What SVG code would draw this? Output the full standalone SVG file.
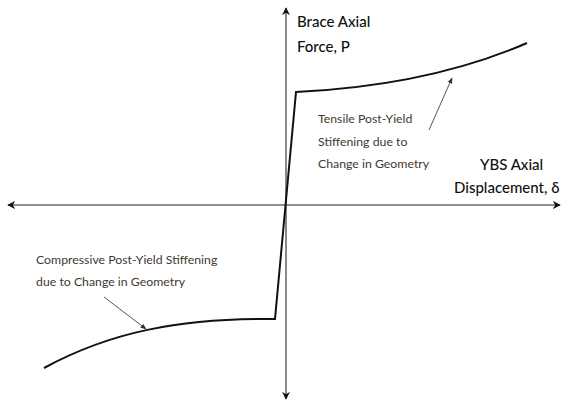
<svg xmlns="http://www.w3.org/2000/svg" width="568" height="403" viewBox="0 0 568 403">
<style>
.axis{stroke:#6b6b6b;stroke-width:1.6;fill:none}
.curve{stroke:#111;stroke-width:2;fill:none;stroke-linejoin:miter}
.lead{stroke:#555;stroke-width:1;fill:none}
.title{font-family:Lato,"Open Sans","DejaVu Sans",sans-serif;font-size:15px;font-weight:500;fill:#111}
.note{font-family:Lato,"Open Sans","DejaVu Sans",sans-serif;font-size:12.3px;fill:#43382f}
</style>
<defs>
<marker id="ah" viewBox="0 0 10 10" refX="9" refY="5" markerWidth="8" markerHeight="8" orient="auto" markerUnits="userSpaceOnUse">
<path d="M0,0 L10,5 L0,10 L3,5 Z" fill="#111"/>
</marker>
<marker id="sh" viewBox="0 0 10 10" refX="9" refY="5" markerWidth="6" markerHeight="6" orient="auto" markerUnits="userSpaceOnUse">
<path d="M0,1 L10,5 L0,9 Z" fill="#333"/>
</marker>
</defs>
<g id="connectors">
<line class="axis" x1="286" y1="205" x2="8" y2="205" marker-end="url(#ah)"/>
<line class="axis" x1="286" y1="205" x2="560" y2="205" marker-end="url(#ah)"/>
<line class="axis" x1="286" y1="205" x2="286" y2="8" marker-end="url(#ah)"/>
<line class="axis" x1="286" y1="205" x2="286" y2="399" marker-end="url(#ah)"/>
<path class="curve" d="M44,368 C110,332 180,318 275,319 L296,92 C380,88 460,72 527,43"/>
<line class="lead" x1="429" y1="130" x2="452" y2="78" marker-end="url(#sh)"/>
<line class="lead" x1="104" y1="297" x2="146" y2="329" marker-end="url(#sh)"/>
</g>
<g id="y-label">
<text class="title" x="297" y="27">Brace Axial</text>
<text class="title" x="297" y="52">Force, P</text>
</g>
<g id="x-label">
<text class="title" x="480" y="170">YBS Axial</text>
<text class="title" x="454" y="193">Displacement, δ</text>
</g>
<g id="tensile-note">
<text class="note" x="318" y="123">Tensile Post-Yield</text>
<text class="note" x="318" y="146">Stiffening due to</text>
<text class="note" x="318" y="168">Change in Geometry</text>
</g>
<g id="compressive-note">
<text class="note" x="36" y="264">Compressive Post-Yield Stiffening</text>
<text class="note" x="36" y="286">due to Change in Geometry</text>
</g>
</svg>
